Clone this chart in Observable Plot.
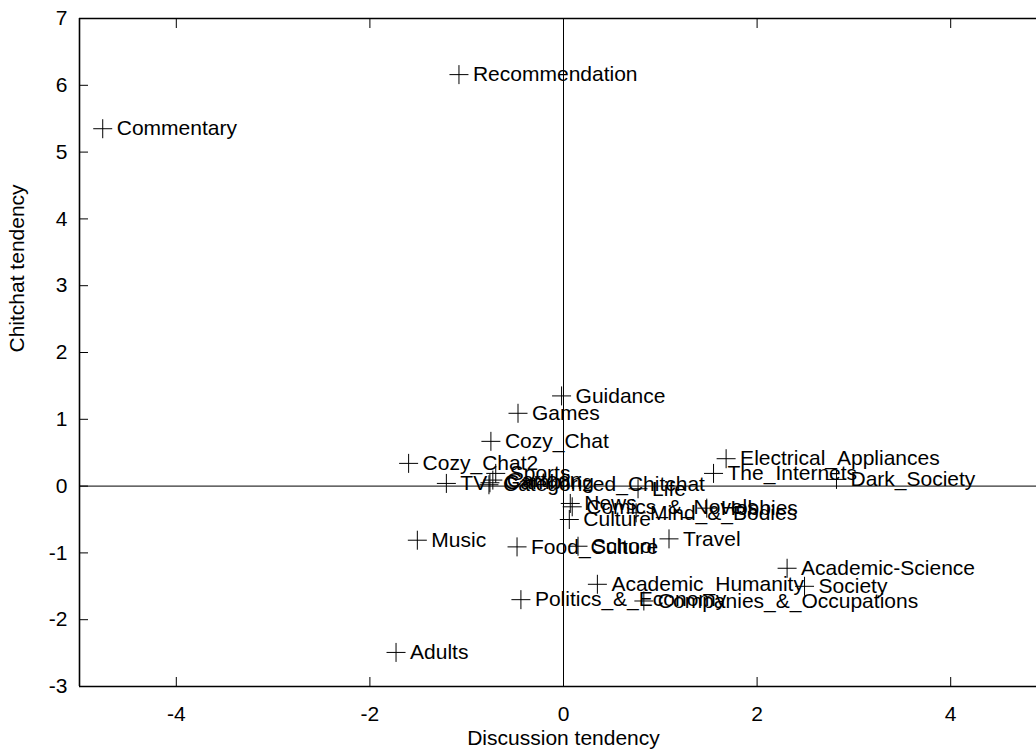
<!DOCTYPE html>
<html><head><meta charset="utf-8">
<script src="https://cdn.jsdelivr.net/npm/d3@7"></script>
<script src="https://cdn.jsdelivr.net/npm/@observablehq/plot@0.6"></script>
<style>
html,body{margin:0;padding:0;background:#fff;overflow:hidden;}
</style></head><body><div id="chart"></div>
<script>
const names = ["Recommendation","Commentary","Guidance","Games","Cozy_Chat","Cozy_Chat2","Sports","TV","Cartoon","Gambling","Categorized_Chitchat","Life","News","Comics_&_Novels","Mind_&_Bodies","Hobbies","Culture","Food_Culture","School","Travel","Music","Politics_&_Economy","Companies_&_Occupations","Academic_Humanity","Academic-Science","Society","Adults","Electrical_Appliances","The_Internets","Dark_Society"];
const xs = [-1.08,-4.76,-0.02,-0.47,-0.75,-1.60,-0.70,-1.21,-0.73,-0.76,-0.77,0.77,0.07,0.09,0.75,1.48,0.06,-0.48,0.15,1.09,-1.51,-0.44,0.83,0.35,2.31,2.49,-1.73,1.68,1.55,2.82];
const ys = [6.16,5.35,1.35,1.09,0.67,0.34,0.19,0.04,0.09,0.05,0.02,-0.04,-0.26,-0.31,-0.40,-0.33,-0.50,-0.91,-0.90,-0.79,-0.81,-1.70,-1.72,-1.47,-1.23,-1.50,-2.49,0.41,0.19,0.10];
const xTicks = [-4,-2,0,2,4];
const yTicks = [-3,-2,-1,0,1,2,3,4,5,6,7];
const xLabel = "Discussion tendency";
const yLabel = "Chitchat tendency";

const data = names.map((n,i)=>({name:n,x:xs[i],y:ys[i]}));
const thinPlus = {draw(ctx, size){const r = Math.sqrt(size/Math.PI); ctx.moveTo(-r,0);ctx.lineTo(r,0);ctx.moveTo(0,-r);ctx.lineTo(0,r);}};
const blank = () => "";

const chart = Plot.plot({
  width: 1052, height: 750,
  marginLeft: 79, marginRight: 5, marginTop: 18, marginBottom: 64,
  x: {domain: [-5, 5]},
  y: {domain: [-3, 7]},
  style: {fontFamily: "'Liberation Sans', Arial, sans-serif", fontSize: "21px", color: "black", background: "white", maxWidth: "none"},
  marks: [
    Plot.ruleX([0], {stroke: "black", strokeWidth: 1}),
    Plot.ruleY([0], {stroke: "black", strokeWidth: 1}),
    Plot.ruleY([-3, 7], {stroke: "black", strokeWidth: 1.6}),
    Plot.ruleX([-5, 5], {stroke: "black", strokeWidth: 1.6}),
    Plot.axisX({anchor: "bottom", ticks: xTicks, tickSize: -9, tickFormat: blank, label: null, strokeOpacity: 1}),
    Plot.axisX({anchor: "top", ticks: xTicks, tickSize: -9, tickFormat: blank, label: null, strokeOpacity: 1}),
    Plot.axisY({anchor: "left", ticks: yTicks, tickSize: -9, tickFormat: blank, label: null, strokeOpacity: 1}),
    Plot.axisY({anchor: "right", ticks: yTicks, tickSize: -9, tickFormat: blank, label: null, strokeOpacity: 1}),
    Plot.axisX({anchor: "bottom", ticks: xTicks, tickSize: 0, tickPadding: 20, tickFormat: d => String(d), label: null, fontSize: 21, fill: "black"}),
    Plot.axisY({anchor: "left", ticks: yTicks, tickSize: 0, tickPadding: 12, tickFormat: d => String(d), label: null, fontSize: 21, fill: "black"}),
    Plot.text([xLabel], {frameAnchor: "bottom", lineAnchor: "middle", dy: 52, fontSize: 21, fill: "black"}),
    Plot.text([yLabel], {frameAnchor: "left", lineAnchor: "middle", dx: -62, rotate: -90, fontSize: 21, fill: "black"}),
    Plot.dot(data, {x: "x", y: "y", symbol: thinPlus, r: 9.5, stroke: "black", strokeWidth: 1, fill: "none"}),
    Plot.text(data, {x: "x", y: "y", text: "name", dx: 14, textAnchor: "start", fontSize: 21, fill: "black"})
  ]
});
document.getElementById("chart").appendChild(chart);
</script></body></html>
